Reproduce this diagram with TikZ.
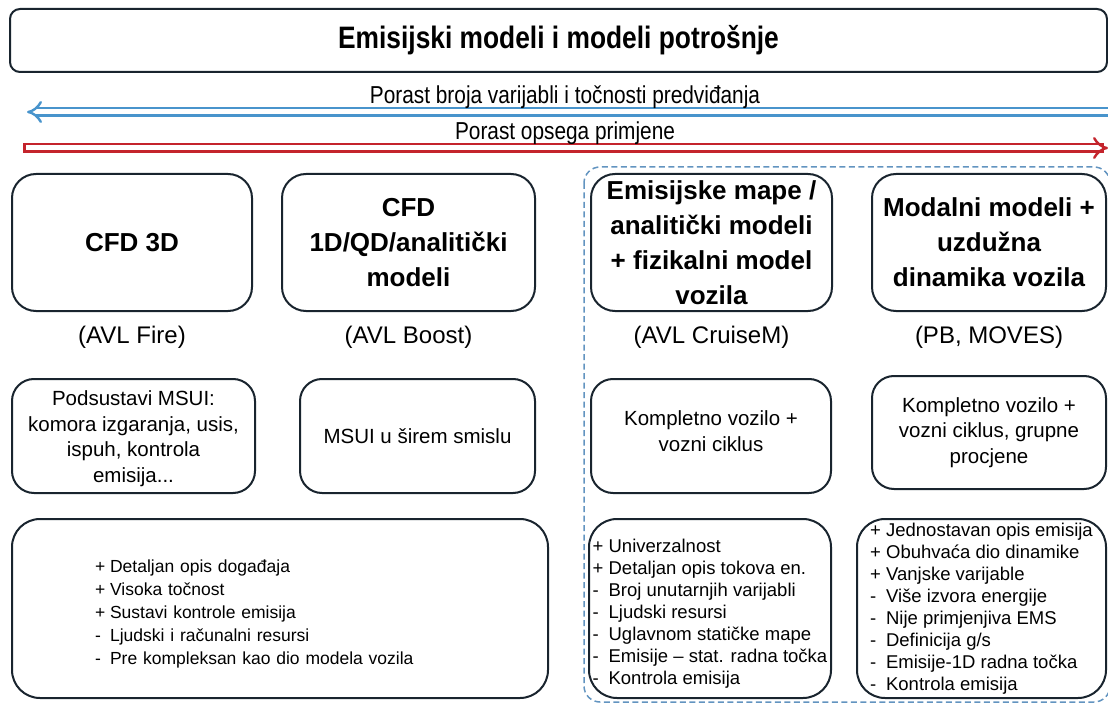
\documentclass[tikz,border=0pt]{standalone}
\usepackage{fontspec}
\setmainfont{Liberation Sans}
\newfontfamily\narrowfont[FakeStretch=0.85]{Liberation Sans}
\usetikzlibrary{arrows.meta}
\usetikzlibrary{positioning}
\definecolor{box-line}{RGB}{25, 36, 46}
\definecolor{arrow-blue}{RGB}{72, 148, 204}
\definecolor{arrow-red}{RGB}{196, 36, 44}
\definecolor{zone-blue}{RGB}{98, 148, 192}

\newcommand{\pro}{\makebox[0.86em][l]{+}}
\newcommand{\con}{\makebox[0.86em][l]{-}}
\newcommand{\lift}[1]{\rule{0pt}{#1}}

\begin{document}
\begin{tikzpicture}[x=1pt, y=-1pt,
    model-box/.style={draw=box-line, line width=2pt, rounded corners=24pt, align=center, inner sep=0pt, minimum height=137pt, font=\fontsize{26}{35}\selectfont\bfseries},
    tool-label/.style={inner sep=0pt, font=\fontsize{24}{28}\selectfont},
    scope-box/.style={draw=box-line, line width=2pt, rounded corners=22pt, align=center, inner sep=0pt, minimum height=114pt, font=\fontsize{20.5}{25.5}\selectfont},
    list-box/.style={draw=box-line, line width=2pt, rounded corners=28pt, align=left, inner sep=0pt, minimum height=179pt, font=\fontsize{18.5}{22}\selectfont},
    trend-label/.style={anchor=base, inner sep=0pt, font=\narrowfont\fontsize{24.5}{28}\selectfont},
    trend-arrow/.style={double=white, double distance=5pt, line width=2.4pt, -{Implies}}]
\clip (0,0) rectangle (1108,703);

% title
\node[draw=box-line, line width=2pt, rounded corners=10pt, minimum width=1097pt, minimum height=63pt, inner sep=0pt, font=\narrowfont\fontsize{31}{36}\selectfont\bfseries] (title) at (558.5,40.5) {Emisijski modeli i modeli potrošnje};

% trends
\coordinate (blue-start) at (1114,112);
\coordinate (blue-end) at (27,112);
\draw[trend-arrow, draw=arrow-blue] (blue-start) -- (blue-end);
\node[trend-label] (accuracy) at (565,104) {Porast broja varijabli i točnosti predviđanja};

\coordinate (red-start) at (28,148);
\coordinate (red-end) at (1108,148);
\draw[trend-arrow, draw=arrow-red, line cap=rect] (red-start) -- (red-end);
\node[trend-label] (range) at (565,140) {Porast opsega primjene};

% vehicle level models
\draw[zone-blue, line width=1.5pt, dash pattern=on 6pt off 3.5pt, rounded corners=16pt] (584,167) rectangle (1110,702);

% model families
\node[model-box, minimum width=240pt] (cfd3d) at (132,242.5) {CFD 3D};
\node[model-box, minimum width=253pt] (cfd1d) at (408.5,242.5) {CFD\\1D/QD/analitički\\modeli};
\node[model-box, minimum width=241pt] (maps) at (711.5,242.5) {Emisijske mape /\\analitički modeli\\+ fizikalni model\\vozila};
\node[model-box, minimum width=234pt] (modal) at (989,242.5) {Modalni modeli +\\uzdužna\\dinamika vozila};

\node[tool-label, below=14pt of cfd3d] (fire) {(AVL Fire)};
\node[tool-label, below=14pt of cfd1d] (boost) {(AVL Boost)};
\node[tool-label, below=14pt of maps] (cruise) {(AVL CruiseM)};
\node[tool-label, below=14pt of modal] (moves) {(PB, MOVES)};

% scope
\node[scope-box, minimum width=243pt] (subsys) at (133.5,436) {\lift{20pt}Podsustavi MSUI:\\komora izgaranja, usis,\\ispuh, kontrola\\emisija...};
\node[scope-box, minimum width=235pt] (engine) at (417.5,436) {MSUI u širem smislu};
\node[scope-box, minimum width=240pt] (vehicle) at (711,436) {Kompletno vozilo +\\vozni ciklus\rule[-10pt]{0pt}{0pt}};
\node[scope-box, minimum width=234pt, minimum height=113pt] (fleet) at (989,432.5) {Kompletno vozilo +\\vozni ciklus, grupne\\procjene};

% pros and cons
\node[list-box, minimum width=536pt, text width=370pt, font=\fontsize{17.5}{23}\selectfont] (cfd-pros) at (280,608.5)
  {\lift{23pt}\pro Detaljan opis događaja\\\pro Visoka točnost\\\pro Sustavi kontrole emisija\\\con Ljudski i računalni resursi\\\con Pre kompleksan kao dio modela vozila};
\node[list-box, minimum width=242pt] (maps-pros) at (710,608.5)
  {\lift{24pt}\pro Univerzalnost\\\pro Detaljan opis tokova en.\\\con Broj unutarnjih varijabli\\\con Ljudski resursi\\\con Uglavnom statičke mape\\\con Emisije – stat. radna točka\\\con Kontrola emisija};
\node[list-box, minimum width=249pt] (modal-pros) at (981.5,608.5)
  {\pro Jednostavan opis emisija\\\pro Obuhvaća dio dinamike\\\pro Vanjske varijable\\\con Više izvora energije\\\con Nije primjenjiva EMS\\\con Definicija g/s\\\con Emisije-1D radna točka\\\con Kontrola emisija};

\end{tikzpicture}
\end{document}
